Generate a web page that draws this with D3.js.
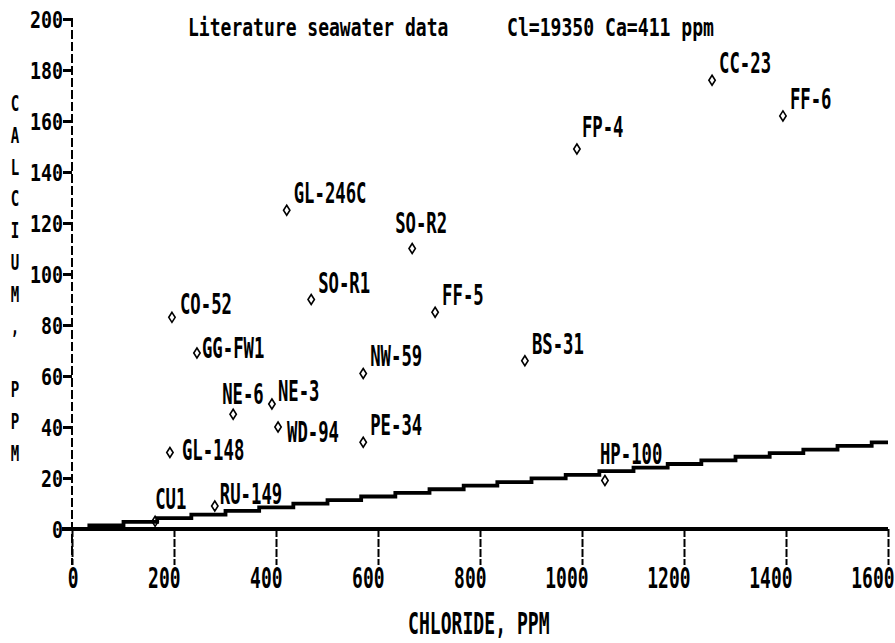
<!DOCTYPE html>
<html>
<head>
<meta charset="utf-8">
<script src="https://cdn.jsdelivr.net/npm/d3@7"></script>
<style>
  html, body { margin: 0; padding: 0; background: #fff; }
  svg { display: block; }
  text { font-family: "DejaVu Sans Mono", "Liberation Mono", monospace; font-weight: bold; fill: #000; }
</style>
</head>
<body>
<svg id="chart" width="895" height="643"></svg>
<script>
// Sample names, chloride (ppm) and calcium (ppm)
const samples  = ["CC-23", "FF-6", "FP-4", "GL-246C", "SO-R2", "SO-R1", "FF-5", "CO-52", "GG-FW1", "NW-59",
                  "BS-31", "NE-6", "NE-3", "WD-94", "PE-34", "GL-148", "HP-100", "RU-149", "CU1"];
const chloride = [1255, 1394, 990, 421, 667, 469, 712, 196, 245, 571,
                  888, 316, 392, 404, 571, 192, 1045, 280, 163];
const calcium  = [176, 162, 149, 125, 110, 90, 85, 83, 69, 61,
                  66, 45, 49, 40, 34, 30, 19, 9, 3];

// Reference seawater composition (ppm)
const seawaterCl = 19350;
const seawaterCa = 411;

const chlorideTicks = [0, 200, 400, 600, 800, 1000, 1200, 1400, 1600];
const calciumTicks  = [0, 20, 40, 60, 80, 100, 120, 140, 160, 180, 200];

const titleText  = "Literature seawater data";
const seawaterText = "Cl=" + seawaterCl + "  Ca=" + seawaterCa + " ppm";
const xTitle = "CHLORIDE, PPM";
const yTitle = "CALCIUM, PPM";

// label placement around each marker (dx, dy of the text baseline start)
const labelOffset = {
  "SO-R2": [-17, -16], "NE-6": [-11, -10], "HP-100": [-5, -17], "CU1": [0, -12],
  "WD-94": [9, 15], "GL-148": [12, 7], "GG-FW1": [5, 5], "CO-52": [8, -3],
  "NE-3": [6, -3], "RU-149": [5, -2], "FP-4": [5, -12]
};
const defaultOffset = [7, -7];

const svg = d3.select("#chart");
const x = d3.scaleLinear().domain([0, 1600]).range([72, 888]);
const y = d3.scaleLinear().domain([0, 200]).range([529, 19]);

// condensed, tall plotter lettering: squeeze the monospace advance to charW
const ADVANCE = 0.602;
function lettering(sel, fontSize, charW, tx, ty) {
  const s = charW / (ADVANCE * fontSize);
  sel.attr("font-size", fontSize).attr("font-family", null)
     .attr("x", 0).attr("y", 0).attr("dy", null)
     .attr("transform", function (d, i) {
       const px = typeof tx === "function" ? tx(d, i) : tx;
       const py = typeof ty === "function" ? ty(d, i) : ty;
       return `translate(${px},${py}) scale(${s},1)`;
     });
  return sel;
}

// seawater dilution line, drawn at the plotter's row resolution
const ratio = seawaterCa / seawaterCl;
const caRow = 34 / 24;
const stair = [];
let prev = null;
for (let cl = 0; cl <= 1600; cl += 1) {
  const q = Math.round(ratio * cl / caRow) * caRow;
  if (q !== prev) { stair.push([cl, q]); prev = q; }
}
stair.push([1600, prev]);
svg.append("path")
  .datum(stair)
  .attr("fill", "none")
  .attr("stroke", "#000")
  .attr("stroke-width", 3.8)
  .attr("d", d3.line().x(d => x(d[0])).y(d => y(d[1])).curve(d3.curveStepAfter));

// x axis
const xAxis = svg.append("g")
  .attr("transform", `translate(0,${y(0)})`)
  .call(d3.axisBottom(x).tickValues(chlorideTicks).tickFormat(d3.format("d")).tickSize(36).tickSizeOuter(0));
xAxis.select(".domain").remove();
xAxis.selectAll(".tick line").attr("stroke", "#000").attr("stroke-width", 2).attr("stroke-dasharray", "8,2");
lettering(xAxis.selectAll(".tick text").attr("text-anchor", "end"), 28, 10.8, 6, 59);

// thick zero line
svg.append("line")
  .attr("x1", x(0) - 10).attr("x2", x(1600)).attr("y1", y(0)).attr("y2", y(0))
  .attr("stroke", "#000").attr("stroke-width", 4);

// y axis
const yAxis = svg.append("g")
  .attr("transform", `translate(${x(0)},0)`)
  .call(d3.axisLeft(y).tickValues(calciumTicks).tickSize(9).tickSizeOuter(0));
yAxis.select(".domain").remove();
yAxis.selectAll(".tick line").attr("stroke", "#000").attr("stroke-width", 3);
lettering(yAxis.selectAll(".tick text").attr("text-anchor", "end"), 23, 11, -9, 8);

svg.append("line")
  .attr("x1", x(0)).attr("x2", x(0)).attr("y1", y(200) - 1).attr("y2", y(0) + 36)
  .attr("stroke", "#000").attr("stroke-width", 2).attr("stroke-dasharray", "9,3");

// titles
lettering(svg.append("text").text(titleText), 24.5, 10.85, 188, 35.5);
lettering(svg.append("text").text(seawaterText), 24.5, 10.9, 507, 35.5);
lettering(svg.append("text").text(xTitle), 30, 10.9, 408, 634);

lettering(svg.append("g").selectAll("text")
  .data(yTitle.split(""))
  .join("text")
  .attr("text-anchor", "middle")
  .text(d => d), 22, 8.5, 15, (d, i) => 103 + i * 31.8 + 8);

// sample markers and labels
const pts = samples.map((name, i) => ({ name, cl: chloride[i], ca: calcium[i] }));
const diamond = "M0,-5L3.2,0L0,5L-3.2,0Z";
const g = svg.append("g");
g.selectAll("path")
  .data(pts)
  .join("path")
  .attr("d", diamond)
  .attr("transform", d => `translate(${x(d.cl)},${y(d.ca)})`)
  .attr("fill", "none").attr("stroke", "#000").attr("stroke-width", 1.6);
lettering(g.selectAll("text")
  .data(pts)
  .join("text")
  .text(d => d.name), 28, 10.4,
  d => x(d.cl) + (labelOffset[d.name] || defaultOffset)[0],
  d => y(d.ca) + (labelOffset[d.name] || defaultOffset)[1]);
</script>
</body>
</html>
